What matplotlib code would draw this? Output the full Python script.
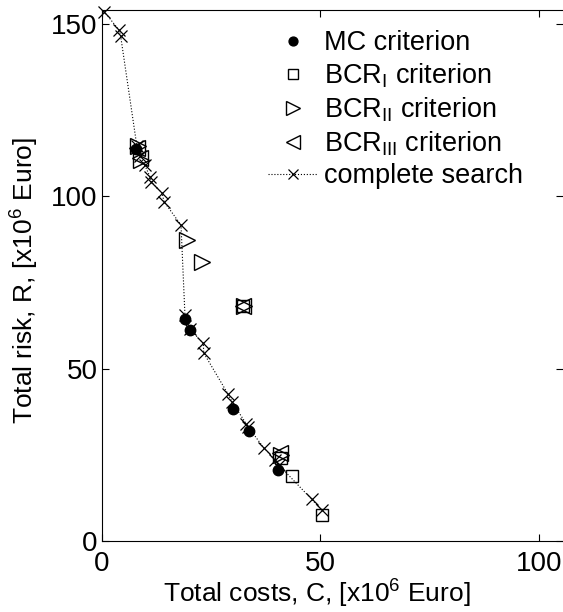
import numpy as np
import matplotlib
matplotlib.use("Agg")
import matplotlib.pyplot as plt

plt.rcParams['font.family'] = ['Liberation Sans', 'DejaVu Sans']
plt.rcParams['mathtext.fontset'] = 'custom'
plt.rcParams['mathtext.rm'] = 'Liberation Sans'

# complete search (x markers joined by a dotted line)
cs_cost = [0.5, 4.0, 4.3, 8.0, 8.8, 9.8, 11.0, 11.3, 13.8, 14.2, 18.1, 19.0, 20.1,
           23.2, 23.3, 28.9, 29.8, 33.0, 33.5, 37.1, 39.6, 40.5, 48.0, 50.3]
cs_risk = [153.5, 148.0, 146.3, 114.5, 111.5, 109.0, 105.6, 104.2, 100.8, 98.4, 91.6, 65.5, 61.5,
           57.3, 54.5, 42.5, 40.3, 34.0, 33.0, 26.9, 23.5, 22.0, 12.1, 9.0]

# MC criterion
mc_cost = [7.9, 19.0, 20.1, 30.0, 33.6, 40.4, 50.3]
mc_risk = [113.7, 64.5, 61.2, 38.2, 31.8, 20.6, 7.6]

# BCR_I criterion
b1_cost = [32.3, 41.0, 43.4, 50.3]
b1_risk = [68.0, 24.2, 18.8, 7.6]

# BCR_II criterion
b2_cost = [8.3, 9.0, 19.4, 22.8, 32.4, 41.0]
b2_risk = [114.5, 110.5, 87.2, 81.0, 68.0, 25.0]

# BCR_III criterion
b3_cost = [8.0, 8.8, 32.2, 40.8]
b3_risk = [114.0, 111.0, 68.0, 25.5]

fig = plt.figure(figsize=(5.63, 6.12), dpi=100)
ax = fig.add_axes([0.181, 0.116, 0.819, 0.868])

ax.plot(mc_cost, mc_risk, 'o', color='black', markersize=7.5, label='MC criterion')
ax.plot(b1_cost, b1_risk, 's', mfc='white', mec='black', markersize=8.5, mew=1.0,
        label=r'BCR$_\mathrm{I}$ criterion')
ax.plot(b2_cost, b2_risk, '>', mfc='none', mec='black', markersize=12, mew=1.0,
        label=r'BCR$_\mathrm{II}$ criterion')
ax.plot(b3_cost, b3_risk, '<', mfc='none', mec='black', markersize=12, mew=1.0,
        label=r'BCR$_\mathrm{III}$ criterion')
ax.plot(cs_cost, cs_risk, ':', color='black', lw=0.8, marker='x', markersize=9,
        mew=0.9, label='complete search', clip_on=False)

ax.set_xlim(0, 105.5)
ax.set_ylim(0, 154)
ax.set_xticks([0, 50, 100])
ax.set_yticks([0, 50, 100, 150])
ax.tick_params(direction='in', top=True, right=True, length=5, labelsize=20)
ax.tick_params(axis='x', pad=7)
ax.tick_params(axis='y', pad=3)
ax.spines['right'].set_visible(False)

ax.set_xlabel(r'Total costs, C, [x10$^6$ Euro]', fontsize=19)
ax.set_ylabel(r'Total risk, R, [x10$^6$ Euro]', fontsize=19)
ax.xaxis.set_label_coords(0.466, -0.067)
ax.yaxis.set_label_coords(-0.134, 0.49)

ax.legend(loc='upper left', bbox_to_anchor=(0.337, 0.982), frameon=False, fontsize=19.5,
          handlelength=1.8, handletextpad=0.25, labelspacing=0.2, borderaxespad=0,
          borderpad=0.4, markerscale=0.85)

fig.savefig('out.png', dpi=100)
